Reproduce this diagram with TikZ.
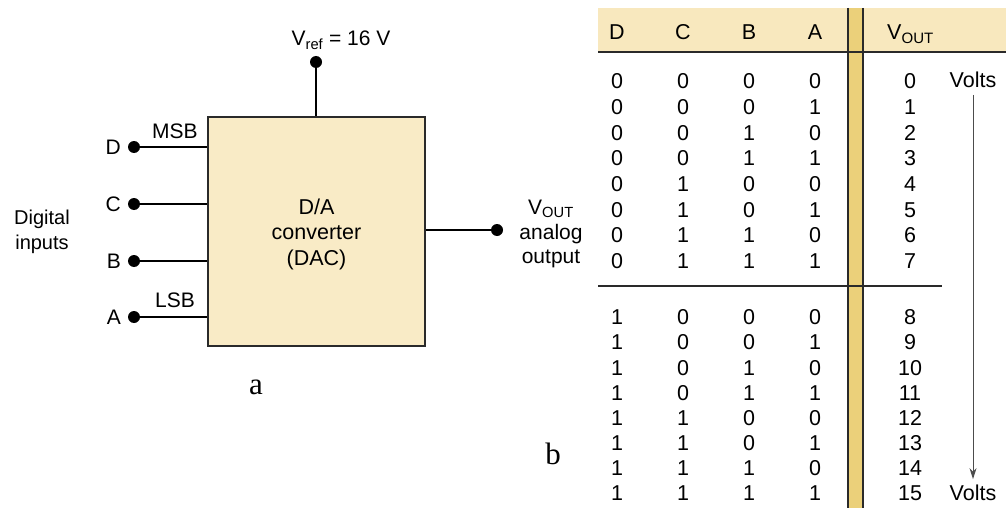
\documentclass[tikz,border=0pt]{standalone}
\usepackage{fontspec}
\setmainfont{Liberation Sans}
\newfontfamily\serifletter{Liberation Serif}
\usetikzlibrary{arrows.meta,calc}
\definecolor{boxfill}{HTML}{F9EBC6}
\definecolor{headfill}{HTML}{F8E8BE}
\definecolor{goldbar}{HTML}{EBD07A}
\definecolor{edge}{HTML}{2A2A2A}
\tikzset{
  txt/.style={inner sep=0pt, font=\fontsize{21}{24}\selectfont},
  pin/.style={circle, fill=black, inner sep=0pt, minimum size=12pt},
  wire/.style={line width=2.2pt, black},
  cell/.style={inner sep=0pt, font=\fontsize{21.5}{24}\selectfont, text height=15.4pt, text depth=0pt},
  rule/.style={line width=1.3pt, edge},
}
\begin{document}
\begin{tikzpicture}[x=1pt, y=-1pt]
\useasboundingbox (0,0) rectangle (1006,508);

% ---------------- DAC block diagram ----------------
\node (dac) [draw=edge, line width=1.8pt, fill=boxfill, minimum width=217pt, minimum height=229pt, inner sep=0pt]
  at (316.5,231.5) {};
\node [txt, align=center, font=\fontsize{21.5}{25.5}\selectfont] at (316.5,234) {D/A\\converter\\(DAC)};

% reference input
\node (vref) [pin] at (316,62) {};
\draw [wire] (vref) -- (vref |- dac.north);
\node [txt] at (341,40) {V\textsubscript{ref} = 16 V};

% digital inputs
\foreach \name/\yy in {D/147, C/204, B/261, A/317} {
  \node (p\name) [pin] at (134,\yy) {};
  \node [txt, anchor=east] at (121,\yy) {\name};
  \draw [wire] (p\name) -- (p\name -| dac.west);
}
\node [txt] at (175,131) {MSB};
\node [txt] at (175,300) {LSB};
\node [txt, align=center, font=\fontsize{20}{25}\selectfont] at (42,232) {Digital\\inputs};

% analog output
\node (vout) [pin] at (497,230) {};
\draw [wire] (vout -| dac.east) -- (vout);
\node [txt] at (551,209) {V\textsubscript{OUT}};
\node [txt] at (551,234) {analog};
\node [txt] at (551,259) {output};

\node [inner sep=0pt, font=\serifletter\fontsize{31}{33}\selectfont] at (256,387) {a};
\node [inner sep=0pt, font=\serifletter\fontsize{31}{33}\selectfont] at (553,454) {b};

% ---------------- truth table ----------------
\fill [headfill] (598,8) rectangle (1006,52);
\fill [goldbar] (848,8) rectangle (863,508);
\draw [rule] (848,8) -- (848,508);
\draw [rule] (863,8) -- (863,508);
\draw [rule] (598,52) -- (1006,52);
\draw [line width=1.3pt, edge] (598,286) -- (942,286);

\node [cell] at (617,32) {D};
\node [cell] at (683,32) {C};
\node [cell] at (749,32) {B};
\node [cell] at (815,32) {A};
\node [cell, anchor=west] at (887,32) {V\textsubscript{OUT}};

\foreach \n in {0,...,15} {
  \pgfmathtruncatemacro{\bd}{div(\n,8)}
  \pgfmathtruncatemacro{\bc}{mod(div(\n,4),2)}
  \pgfmathtruncatemacro{\bb}{mod(div(\n,2),2)}
  \pgfmathtruncatemacro{\ba}{mod(\n,2)}
  \pgfmathsetmacro{\yy}{\n<8 ? 81+25.7*\n : 317+25.15*(\n-8)}
  \node [cell] at (617,\yy) {\bd};
  \node [cell] at (683,\yy) {\bc};
  \node [cell] at (749,\yy) {\bb};
  \node [cell] at (815,\yy) {\ba};
  \node (v\n) [cell] at (910,\yy) {\n};
}

\node (vtop) [cell] at (973,80) {Volts};
\node (vbot) [cell] at (973,493) {Volts};
\draw [line width=1pt, black!70, -{Stealth[length=11pt, width=7pt]}] ($(vtop.south)+(0,7)$) -- ($(vbot.north)+(0,-6)$);
\end{tikzpicture}
\end{document}
